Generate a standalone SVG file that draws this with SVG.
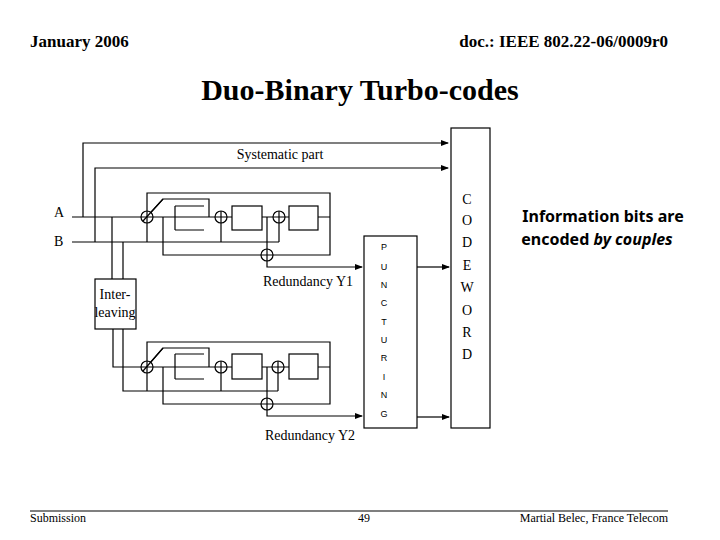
<svg xmlns="http://www.w3.org/2000/svg" width="720" height="540" viewBox="0 0 720 540">
<style>
.l{stroke:#000;stroke-width:1.2;fill:none}
.b{stroke:#000;stroke-width:1.2;fill:#fff}
.t{font-family:"Liberation Serif",serif;fill:#000}
.s{font-family:"Liberation Sans",sans-serif;fill:#000}
</style>
<defs>
<marker id="ar" markerWidth="8" markerHeight="8" refX="7" refY="4" orient="auto" markerUnits="userSpaceOnUse"><path d="M0,1 L8,4 L0,7z" fill="#000"/></marker>
<g id="x"><circle r="6" class="b"/><path d="M-6,0H6M0,-6V6" class="l"/></g>
</defs>
<rect width="720" height="540" fill="#fff"/>
<g id="header">
<text x="30" y="47" class="t" font-size="17" font-weight="bold">January 2006</text>
<text x="668" y="47" class="t" font-size="17" font-weight="bold" text-anchor="end">doc.: IEEE 802.22-06/0009r0</text>
<text x="360" y="100" class="t" font-size="30" font-weight="bold" text-anchor="middle">Duo-Binary Turbo-codes</text>
</g>
<g id="connectors">
<path d="M72,217H330M72,242H279" class="l"/>
<path d="M83,217V143H448" class="l" marker-end="url(#ar)"/>
<path d="M95,242V168H448" class="l" marker-end="url(#ar)"/>
<path d="M112,217V279M123,242V279" class="l"/>
<path d="M147,242V193H330V217M163,217V255H330V217M221,242V217M279,242V217M267,217V255M143,221L163,199H209V217M175,206H204M175,230H204M175,206V230" class="l"/>
<path d="M267,255V267H362" class="l" marker-end="url(#ar)"/>
<path d="M417,267H449" class="l" marker-end="url(#ar)"/>
<path d="M417,417H449" class="l" marker-end="url(#ar)"/>
<path d="M113,329V367H330M123,329V391H278M147,391V342H330V367M163,367V404H330V367M221,391V367M278,391V367M267,367V404M143,371L163,348H209V367M175,354H204M175,379H204M175,354V379" class="l"/>
<path d="M267,404V416H362" class="l" marker-end="url(#ar)"/>
</g>
<g id="enc1">
<rect x="232" y="206" width="30" height="24" class="b"/>
<rect x="289" y="206" width="29" height="24" class="b"/>
<use href="#x" x="147" y="217"/><use href="#x" x="221" y="217"/><use href="#x" x="279" y="217"/><use href="#x" x="267" y="255"/>
<path d="M143,221L163,199" class="l"/>
</g>
<g id="enc2">
<rect x="232" y="354" width="30" height="25" class="b"/>
<rect x="289" y="354" width="29" height="25" class="b"/>
<use href="#x" x="147" y="367"/><use href="#x" x="221" y="367"/><use href="#x" x="278" y="367"/><use href="#x" x="267" y="404"/>
<path d="M143,371L163,348" class="l"/>
</g>
<g id="interleaver">
<rect x="95" y="279" width="41" height="50" class="b"/>
<text x="115" y="299" class="t" font-size="14" text-anchor="middle">Inter-</text>
<text x="115" y="317" class="t" font-size="14" text-anchor="middle">leaving</text>
</g>
<g id="puncturing">
<rect x="364" y="236" width="53" height="192" class="b"/>
<g class="s" font-size="9" text-anchor="middle">
<text x="384" y="250">P</text><text x="384" y="270">U</text><text x="384" y="288">N</text><text x="384" y="306">C</text><text x="384" y="325">T</text><text x="384" y="343">U</text><text x="384" y="361">R</text><text x="384" y="380">I</text><text x="384" y="398">N</text><text x="384" y="417">G</text>
</g>
</g>
<g id="codeword">
<rect x="451" y="128" width="39" height="300" class="b"/>
<g class="t" font-size="14" text-anchor="middle">
<text x="467" y="204">C</text><text x="467" y="225">O</text><text x="467" y="247">D</text><text x="467" y="270">E</text><text x="467" y="292">W</text><text x="467" y="315">O</text><text x="467" y="337">R</text><text x="467" y="359">D</text>
</g>
</g>
<g id="labels" class="t" font-size="14">
<text x="54" y="217">A</text><text x="54" y="246">B</text>
<text x="280" y="159" text-anchor="middle">Systematic part</text>
<text x="308" y="286" text-anchor="middle">Redundancy Y1</text>
<text x="310" y="440" text-anchor="middle">Redundancy Y2</text>
</g>
<g id="note" font-family="'Noto Sans',sans-serif" font-size="16" font-weight="bold" text-anchor="middle">
<text x="603" y="222">Information bits are</text>
<text x="597" y="245">encoded <tspan font-style="italic">by couples</tspan></text>
</g>
<g id="footer" class="t" font-size="12">
<path d="M30,511H668" class="l"/>
<text x="30" y="522">Submission</text>
<text x="364" y="522" text-anchor="middle">49</text>
<text x="668" y="522" text-anchor="end">Martial Belec, France Telecom</text>
</g>
</svg>
